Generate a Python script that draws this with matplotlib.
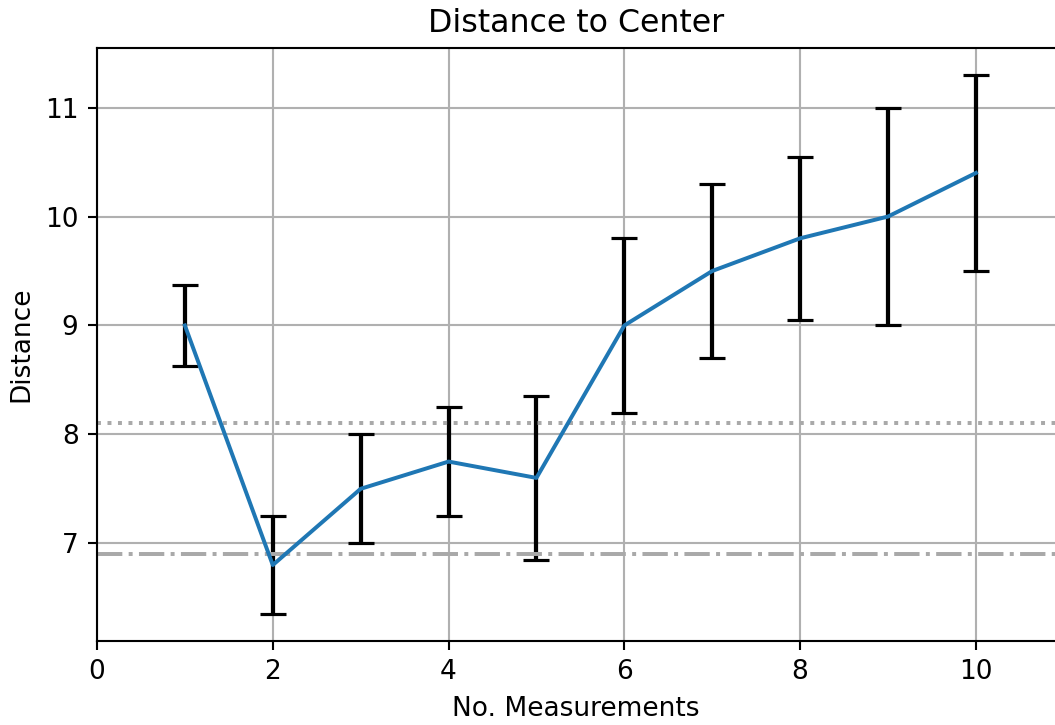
import numpy as np
import matplotlib
matplotlib.use('Agg')
import matplotlib.pyplot as plt

# measurements and their errors
n_meas = [1, 2, 3, 4, 5, 6, 7, 8, 9, 10]
distance = [9.0, 6.8, 7.5, 7.75, 7.6, 9.0, 9.5, 9.8, 10.0, 10.4]
dist_err = [0.37, 0.45, 0.5, 0.5, 0.75, 0.8, 0.8, 0.75, 1.0, 0.9]

# reference levels
upper_ref = 8.1
lower_ref = 6.9

DPI = 190
fig = plt.figure(figsize=(1055/DPI, 725/DPI), dpi=DPI)
ax = fig.add_axes([97/1055, (725-641)/725, 1 - 97/1055, (641-48)/725])

ax.errorbar(n_meas, distance, yerr=dist_err, color='tab:blue',
            ecolor='black', elinewidth=1.6, capsize=5, capthick=1.2)
ax.axhline(upper_ref, color='darkgray', linestyle=':', linewidth=1.5)
ax.axhline(lower_ref, color='darkgray', linestyle='-.', linewidth=1.5)

ax.set_xlim(0, 10.9)
ax.spines['right'].set_visible(False)
ax.grid(True)
ax.set_title('Distance to Center')
ax.set_xlabel('No. Measurements')
ax.set_ylabel('Distance')

fig.savefig('out.png', dpi=DPI)
